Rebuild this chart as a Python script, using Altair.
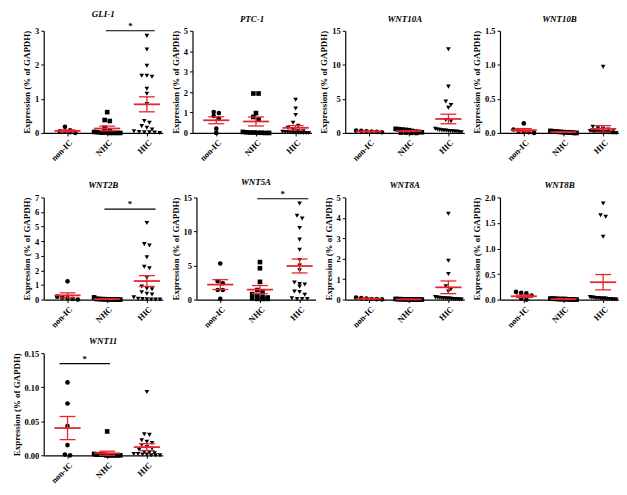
import altair as alt
import pandas as pd

groups = ["non-IC", "NHC", "HIC"]
shapes = ["circle", "square", "triangle-down"]

# ---- data (values in % of GAPDH) ----
gli1_nonic = [0.18, 0.08, 0.05, 0.04, 0.02, 0.0]
gli1_nhc = [0.61, 0.38, 0.35, 0.15, 0.05, 0.03, 0.02, 0.01, 0.01, 0.0, 0.0, 0.0, 0.0]
gli1_hic = [2.85, 2.45, 1.97, 1.68, 1.65, 1.68, 1.30, 1.15, 0.85, 0.35, 0.30, 0.20, 0.15, 0.10,
            0.05, 0.03, 0.02, 0.02, 0.01, 0.0]
gli1_mean = [0.06, 0.13, 0.84]
gli1_sem = [0.03, 0.07, 0.22]

ptc1_nonic = [1.02, 0.97, 0.83, 0.70, 0.21, 0.0]
ptc1_nhc = [1.93, 1.93, 0.97, 0.78, 0.65, 0.05, 0.03, 0.02, 0.02, 0.01, 0.01, 0.0, 0.0]
ptc1_hic = [1.62, 1.20, 0.88, 0.50, 0.35, 0.25, 0.15, 0.10, 0.08, 0.06, 0.05, 0.04, 0.03,
            0.02, 0.02, 0.01, 0.01, 0.0, 0.0, 0.0]
ptc1_mean = [0.62, 0.56, 0.25]
ptc1_sem = [0.17, 0.22, 0.11]

wnt10a_nonic = [0.35, 0.30, 0.25, 0.20, 0.15, 0.10]
wnt10a_nhc = [0.60, 0.55, 0.50, 0.45, 0.40, 0.30, 0.20, 0.15, 0.10, 0.05, 0.05, 0.02, 0.0]
wnt10a_hic = [12.3, 6.8, 4.6, 4.1, 3.7, 1.9, 1.7, 0.6, 0.5, 0.45, 0.4, 0.35, 0.35, 0.3, 0.3,
              0.25, 0.2, 0.2, 0.15, 0.1]
wnt10a_mean = [0.22, 0.26, 2.05]
wnt10a_sem = [0.04, 0.06, 0.70]

wnt10b_nonic = [0.14, 0.05, 0.03, 0.02, 0.01, 0.0]
wnt10b_nhc = [0.03, 0.025, 0.02, 0.02, 0.015, 0.015, 0.01, 0.01, 0.01, 0.005, 0.005, 0.0, 0.0]
wnt10b_hic = [0.97, 0.09, 0.07, 0.06, 0.05, 0.04, 0.03, 0.03, 0.02, 0.02, 0.02, 0.015, 0.01,
              0.01, 0.01, 0.005, 0.005, 0.0, 0.0, 0.0]
wnt10b_mean = [0.042, 0.012, 0.06]
wnt10b_sem = [0.022, 0.003, 0.047]

wnt2b_nonic = [1.25, 0.20, 0.15, 0.10, 0.05, 0.0]
wnt2b_nhc = [0.15, 0.05, 0.04, 0.03, 0.03, 0.02, 0.02, 0.01, 0.01, 0.01, 0.0, 0.0, 0.0]
wnt2b_hic = [5.25, 3.8, 3.7, 2.9, 2.25, 2.15, 1.5, 0.9, 0.75, 0.7, 0.5, 0.4, 0.35, 0.15,
             0.05, 0.03, 0.02, 0.01, 0.0, 0.0]
wnt2b_mean = [0.29, 0.03, 1.27]
wnt2b_sem = [0.17, 0.012, 0.37]

wnt5a_nonic = [5.3, 2.7, 2.4, 1.4, 1.4, 0.1]
wnt5a_nhc = [5.5, 4.6, 2.6, 1.4, 1.1, 0.8, 0.5, 0.4, 0.3, 0.2, 0.1, 0.1, 0.1]
wnt5a_hic = [14.1, 12.3, 11.9, 10.5, 8.8, 7.3, 5.8, 5.0, 4.3, 2.5, 2.3, 2.2, 1.9, 1.2, 1.1,
             0.7, 0.2, 0.1, 0.1, 0.1]
wnt5a_mean = [2.2, 1.46, 4.93]
wnt5a_sem = [0.72, 0.60, 1.02]

wnt8a_nonic = [0.10, 0.07, 0.05, 0.03, 0.02, 0.01]
wnt8a_nhc = [0.03, 0.02, 0.02, 0.015, 0.01, 0.01, 0.01, 0.01, 0.005, 0.005, 0.0, 0.0, 0.0]
wnt8a_hic = [4.2, 1.9, 1.25, 0.65, 0.5, 0.4, 0.12, 0.1, 0.09, 0.08, 0.07, 0.06, 0.05, 0.05,
             0.04, 0.03, 0.03, 0.02, 0.01, 0.0]
wnt8a_mean = [0.045, 0.01, 0.60]
wnt8a_sem = [0.014, 0.003, 0.31]

wnt8b_nonic = [0.15, 0.13, 0.12, 0.08, 0.02, 0.0]
wnt8b_nhc = [0.02, 0.02, 0.015, 0.015, 0.01, 0.01, 0.01, 0.01, 0.005, 0.005, 0.0, 0.0, 0.0]
wnt8b_hic = [1.88, 1.65, 1.62, 1.23, 0.05, 0.04, 0.04, 0.03, 0.03, 0.03, 0.02, 0.02, 0.02,
             0.02, 0.01, 0.01, 0.01, 0.0, 0.0, 0.0]
wnt8b_mean = [0.065, 0.008, 0.34]
wnt8b_sem = [0.025, 0.002, 0.15]

wnt11_nonic = [0.107, 0.076, 0.043, 0.015, 0.001, 0.0]
wnt11_nhc = [0.035, 0.002, 0.001, 0.001, 0.001, 0.001, 0.0, 0.0, 0.0, 0.0, 0.0, 0.0, 0.0]
wnt11_hic = [0.093, 0.031, 0.030, 0.022, 0.020, 0.018, 0.015, 0.012, 0.010, 0.008, 0.005,
             0.004, 0.003, 0.002, 0.002, 0.001, 0.001, 0.0, 0.0, 0.0]
wnt11_mean = [0.040, 0.003, 0.012]
wnt11_sem = [0.017, 0.003, 0.005]

# axis ticks (last = axis maximum)
gli1_ticks = [0, 1, 2, 3]
ptc1_ticks = [0, 1, 2, 3, 4, 5]
wnt10a_ticks = [0, 5, 10, 15]
wnt10b_ticks = [0.0, 0.5, 1.0, 1.5]
wnt2b_ticks = [0, 1, 2, 3, 4, 5, 6, 7]
wnt5a_ticks = [0, 5, 10, 15]
wnt8a_ticks = [0, 1, 2, 3, 4, 5]
wnt8b_ticks = [0.0, 0.5, 1.0, 1.5, 2.0]
wnt11_ticks = [0.00, 0.05, 0.10, 0.15]

# significance bars: (y, start, end) in group units
gli1_sig = (3.0, 0.97, 2.2)
wnt2b_sig = (6.2, 0.93, 2.22)
wnt5a_sig = (14.8, 0.93, 2.22)
wnt11_sig = (0.1345, -0.2, 1.07)

RED = "#e8252d"
FONT = "Liberation Serif"


def spread(vals, ymax):
    """GraphPad-like horizontal spreading of points with similar values."""
    thr = 0.035 * ymax
    order = sorted(range(len(vals)), key=lambda i: -vals[i])
    offs = [0.0] * len(vals)
    i = 0
    while i < len(order):
        j = i
        while j + 1 < len(order) and vals[order[i]] - vals[order[j + 1]] < thr:
            j += 1
        k = j - i + 1
        step = 0.13 if k <= 1 else min(0.13, 0.66 / (k - 1))
        for m in range(k):
            offs[order[i + m]] = (m - (k - 1) / 2) * step
        i = j + 1
    return offs


def panel(title, vals, mean, sem, ticks, fmt, sig=None):
    ymax = ticks[-1]
    rows = []
    for gi, (g, v) in enumerate(zip(groups, vals)):
        for val, o in zip(v, spread(v, ymax)):
            rows.append({"group": g, "gi": gi, "jit": o, "value": val})
    pts = pd.DataFrame(rows)
    xscale = alt.Scale(domain=[-0.6, 2.4], nice=False, zero=False)
    yscale = alt.Scale(domain=[0, ymax], nice=False, zero=True)
    xaxis = alt.Axis(values=[0, 1, 2], title=None, grid=False, labelAngle=-45,
                     labelAlign="right", labelBaseline="top",
                     labelExpr="datum.value == 0 ? 'non-IC' : datum.value == 1 ? 'NHC' : 'HIC'")
    yaxis = alt.Axis(values=ticks, format=fmt, title="Expression (% of GAPDH)", grid=False)

    layers = []
    layers.append(
        alt.Chart(pts).transform_calculate(xp="datum.gi + datum.jit")
        .mark_point(filled=True, color="black", size=22, opacity=1)
        .encode(
            x=alt.X("xp:Q", scale=xscale, axis=xaxis),
            y=alt.Y("value:Q", scale=yscale, axis=yaxis),
            shape=alt.Shape("group:N", scale=alt.Scale(domain=groups, range=shapes), legend=None),
        )
    )
    stats = pd.DataFrame({"gi": [0, 1, 2], "mean": mean, "sem": sem})
    sb = alt.Chart(stats).transform_calculate(
        hi="datum.mean + datum.sem", lo="datum.mean - datum.sem",
        m1="datum.gi - 0.33", m2="datum.gi + 0.33",
        c1="datum.gi - 0.2", c2="datum.gi + 0.2",
    )
    layers.append(sb.mark_rule(color=RED, strokeWidth=1.8).encode(
        x=alt.X("m1:Q", scale=xscale, axis=xaxis), x2="m2:Q",
        y=alt.Y("mean:Q", scale=yscale, axis=yaxis)))
    layers.append(sb.mark_rule(color=RED, strokeWidth=1.3).encode(
        x=alt.X("gi:Q", scale=xscale, axis=xaxis),
        y=alt.Y("lo:Q", scale=yscale, axis=yaxis), y2="hi:Q"))
    layers.append(sb.transform_fold(["hi", "lo"], as_=["k", "yv"]).mark_rule(color=RED, strokeWidth=1.3).encode(
        x=alt.X("c1:Q", scale=xscale, axis=xaxis), x2="c2:Q",
        y=alt.Y("yv:Q", scale=yscale, axis=yaxis)))
    if sig is not None:
        sdf = pd.DataFrame({"y": [sig[0]], "a": [sig[1]], "b": [sig[2]], "t": ["*"]})
        sc = alt.Chart(sdf).transform_calculate(mid="(datum.a + datum.b) / 2")
        layers.append(sc.mark_rule(color="black", strokeWidth=1.2).encode(
            x=alt.X("a:Q", scale=xscale, axis=xaxis), x2="b:Q",
            y=alt.Y("y:Q", scale=yscale, axis=yaxis)))
        layers.append(sc.mark_text(font=FONT, fontSize=9, fontWeight="bold", dy=-5, color="black").encode(
            x=alt.X("mid:Q", scale=xscale, axis=xaxis),
            y=alt.Y("y:Q", scale=yscale, axis=yaxis), text="t:N"))
    return alt.layer(*layers).properties(width=120, height=103, title=title)


p = [
    panel("GLI-1", [gli1_nonic, gli1_nhc, gli1_hic], gli1_mean, gli1_sem, gli1_ticks, "d", gli1_sig),
    panel("PTC-1", [ptc1_nonic, ptc1_nhc, ptc1_hic], ptc1_mean, ptc1_sem, ptc1_ticks, "d"),
    panel("WNT10A", [wnt10a_nonic, wnt10a_nhc, wnt10a_hic], wnt10a_mean, wnt10a_sem, wnt10a_ticks, "d"),
    panel("WNT10B", [wnt10b_nonic, wnt10b_nhc, wnt10b_hic], wnt10b_mean, wnt10b_sem, wnt10b_ticks, ".1f"),
    panel("WNT2B", [wnt2b_nonic, wnt2b_nhc, wnt2b_hic], wnt2b_mean, wnt2b_sem, wnt2b_ticks, "d", wnt2b_sig),
    panel("WNT5A", [wnt5a_nonic, wnt5a_nhc, wnt5a_hic], wnt5a_mean, wnt5a_sem, wnt5a_ticks, "d", wnt5a_sig),
    panel("WNT8A", [wnt8a_nonic, wnt8a_nhc, wnt8a_hic], wnt8a_mean, wnt8a_sem, wnt8a_ticks, "d"),
    panel("WNT8B", [wnt8b_nonic, wnt8b_nhc, wnt8b_hic], wnt8b_mean, wnt8b_sem, wnt8b_ticks, ".1f"),
    panel("WNT11", [wnt11_nonic, wnt11_nhc, wnt11_hic], wnt11_mean, wnt11_sem, wnt11_ticks, ".2f", wnt11_sig),
]

top_rows = alt.vconcat(
    alt.hconcat(p[0], p[1], p[2], p[3], spacing=8),
    alt.hconcat(p[4], p[5], p[6], p[7], spacing=8),
    spacing=15,
)
chart = alt.vconcat(
    top_rows,
    alt.hconcat(p[8], spacing=8),
    spacing=8,
).properties(
    padding={"left": 4, "right": 0, "top": 0, "bottom": 0}
).configure_view(stroke=None).configure_axis(
    labelFont=FONT, titleFont=FONT, labelFontWeight="bold", titleFontWeight="bold",
    labelFontSize=8.5, titleFontSize=9, labelColor="black", titleColor="black",
    domainColor="black", tickColor="black", domainWidth=1.2, tickWidth=1,
    tickSize=3, labelPadding=2, titlePadding=3, grid=False,
).configure_title(
    font=FONT, fontSize=9, fontStyle="italic", fontWeight="bold", anchor="middle",
    offset=3, color="black",
)

chart.save("out.html", embed_options={"renderer": "svg", "actions": False})
